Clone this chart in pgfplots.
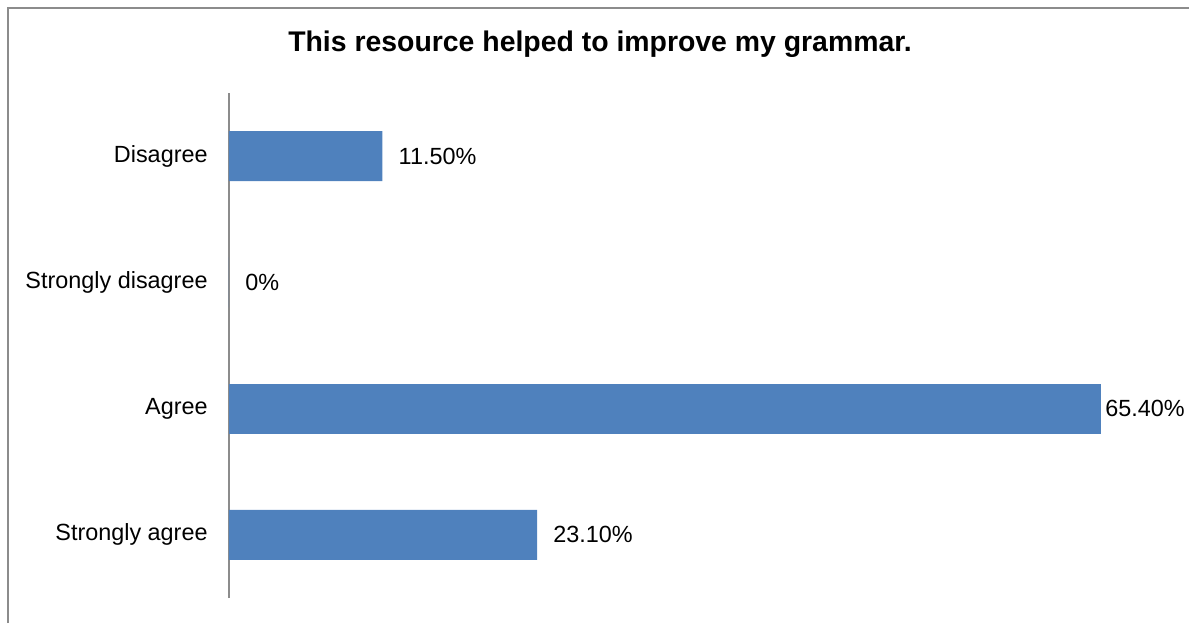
\documentclass[border=0pt]{standalone}
\usepackage{fontspec}
\setmainfont{Liberation Sans}
\usepackage{pgfplots}
\pgfplotsset{compat=1.18}
\definecolor{barblue}{HTML}{4F81BD}
\definecolor{framegray}{HTML}{8C8C8C}
\begin{document}
\begin{tikzpicture}[x=0.5pt,y=0.5pt]
\useasboundingbox (0,0) rectangle (1189,623);
% outer chart frame (cropped on the right and bottom)
\draw[framegray, line width=1pt] (8,0) -- (8,615) -- (1189,615);
\node[font=\fontsize{14.2}{17}\selectfont\bfseries] at (600,579) {This resource helped to improve my grammar.};
\begin{axis}[
    at={(114.5pt,12.5pt)}, anchor=south west,
    width=436pt, height=252.5pt, scale only axis,
    xbar, bar width=25pt, bar shift=0pt,
    xmin=0, xmax=65.4, ymin=-0.5, ymax=3.5,
    hide x axis,
    axis y line*=left,
    y axis line style={framegray, line width=0.8pt},
    ytick={0,1,2,3},
    yticklabels={Strongly agree, Agree, Strongly disagree, Disagree},
    major tick length=0pt,
    yticklabel style={font=\fontsize{11.7}{14}\selectfont, inner sep=0pt, xshift=-10.5pt},
    point meta=explicit symbolic,
    nodes near coords,
    nodes near coords style={font=\fontsize{11.7}{14}\selectfont, anchor=west, inner sep=0pt, xshift=8pt},
    clip=false
]
\addplot[fill=barblue, draw=none] coordinates {(23.1,0) [23.10\%] (0,2) [0\%] (11.5,3) [11.50\%]};
% the longest label sits close to its bar, as in the original
\addplot[fill=barblue, draw=none, nodes near coords style={xshift=-6pt}] coordinates {(65.4,1) [65.40\%]};
\end{axis}
\end{tikzpicture}
\end{document}
